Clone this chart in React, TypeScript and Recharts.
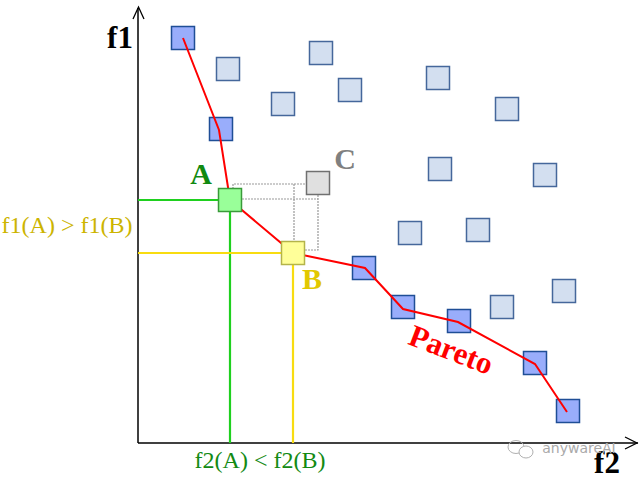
import React from 'react';
import { ScatterChart, Scatter, XAxis, YAxis } from 'recharts';

// data coords: x = f2, y = f1
const lightPoints = [
  [90, 374], [183, 390], [145, 339], [212, 353], [300, 365], [369, 334],
  [302, 274], [407, 268], [272, 210], [340, 213], [364, 136], [426, 152],
];
const paretoPoints = [
  [45, 405], [83, 314], [226, 175], [265, 136], [321, 122], [397, 80], [430, 32],
];
const pointA = [[92, 243]];
const pointB = [[155, 190]];
const pointC = [[180, 260]];
const paretoLine = [
  [45, 405], [81, 313], [92, 243], [155, 190], [227, 175], [265, 134], [320, 121], [397, 79], [429, 31],
];
const dominanceSegments = [
  [[95, 254], [95, 259], [169, 259]],
  [[156, 259], [156, 201]],
  [[104, 244], [180, 244]],
  [[180, 248], [180, 193], [167, 193]],
];
const greenGuide = [[0, 243], [92, 243], [92, 0]];
const yellowGuide = [[0, 190], [155, 190], [155, 0]];

const toObj = (arr: number[][]) => arr.map(([x, y]) => ({ x, y }));

const square = (fill: string, stroke: string) => (props: any) => (
  <rect x={props.cx - 11.5} y={props.cy - 11.5} width={23} height={23} fill={fill} stroke={stroke} strokeWidth={1.5} />
);
const noShape = () => <g />;

const serif = '"Liberation Serif", "Times New Roman", serif';

export default function App() {
  return (
    <div style={{ position: 'absolute', left: 0, top: 0, width: 640, height: 480, background: '#fff' }}>
      <ScatterChart width={640} height={480} margin={{ top: 8, right: 2, bottom: 0, left: 0 }}>
        <XAxis type="number" dataKey="x" domain={[0, 500]} tick={false} tickLine={false} height={37}
          axisLine={{ stroke: '#000', strokeWidth: 1.5 }} />
        <YAxis type="number" dataKey="y" domain={[0, 435]} tick={false} tickLine={false} width={138}
          axisLine={{ stroke: '#000', strokeWidth: 1.5 }} />
        <Scatter data={toObj(lightPoints)} shape={square('#d3dff0', '#45679b')} isAnimationActive={false} />
        <Scatter data={toObj(paretoPoints)} shape={square('#99adfb', '#1f4e96')} isAnimationActive={false} />
        <Scatter data={toObj(paretoLine)} shape={noShape} line={{ stroke: '#ff0000', strokeWidth: 2 }} lineType="joint" isAnimationActive={false} />
        {dominanceSegments.map((seg, i) => (
          <Scatter key={i} data={toObj(seg)} shape={noShape} line={{ stroke: '#999', strokeWidth: 1.2, strokeDasharray: '2 1' }} lineType="joint" isAnimationActive={false} />
        ))}
        <Scatter data={toObj(greenGuide)} shape={noShape} line={{ stroke: '#1fd01f', strokeWidth: 2.2 }} lineType="joint" isAnimationActive={false} />
        <Scatter data={toObj(yellowGuide)} shape={noShape} line={{ stroke: '#f8dc10', strokeWidth: 2.2 }} lineType="joint" isAnimationActive={false} />
        <Scatter data={toObj(pointC)} shape={square('#e0e0e0', '#707070')} isAnimationActive={false} />
        <Scatter data={toObj(pointA)} shape={square('#99ff99', '#3a9a3a')} isAnimationActive={false} />
        <Scatter data={toObj(pointB)} shape={square('#ffff99', '#b4b44a')} isAnimationActive={false} />
      </ScatterChart>
      <svg width={640} height={480} style={{ position: 'absolute', left: 0, top: 0, pointerEvents: 'none' }}>
        <polyline points="133,19 138.5,7 144,19" fill="none" stroke="#000" strokeWidth={1.3} />
        <polyline points="625,437 637,443 625,449" fill="none" stroke="#000" strokeWidth={1.3} />
        <text x={120} y={48} textAnchor="middle" fontFamily={serif} fontWeight="bold" fontSize={31} fill="#000">f1</text>
        <text x={607} y={473} textAnchor="middle" fontFamily={serif} fontWeight="bold" fontSize={31} fill="#000">f2</text>
        <text x={201} y={184} textAnchor="middle" fontFamily={serif} fontWeight="bold" fontSize={30} fill="#118a11">A</text>
        <text x={312} y={289} textAnchor="middle" fontFamily={serif} fontWeight="bold" fontSize={30} fill="#e2c800">B</text>
        <text x={345} y={169} textAnchor="middle" fontFamily={serif} fontWeight="bold" fontSize={30} fill="#808080">C</text>
        <text x={67} y={233} textAnchor="middle" fontFamily={serif} fontSize={24} fill="#ccb400">f1(A) &gt; f1(B)</text>
        <text x={260} y={468} textAnchor="middle" fontFamily={serif} fontSize={24} fill="#138a13">f2(A) &lt; f2(B)</text>
        <text x={451} y={360} textAnchor="middle" fontFamily={serif} fontWeight="bold" fontSize={31} fill="#ff0000"
          transform="rotate(21 451 350)">Pareto</text>
        <g fill="none" stroke="#b0b0b0" strokeWidth={1}>
          <ellipse cx={516} cy={447} rx={8} ry={6.5} />
          <ellipse cx={526} cy={452} rx={7} ry={6} fill="#fff" />
        </g>
        <text x={579} y={453} textAnchor="middle" fontFamily="'DejaVu Sans', sans-serif" fontSize={14} fill="#aaa">anywareAI</text>
      </svg>
    </div>
  );
}
